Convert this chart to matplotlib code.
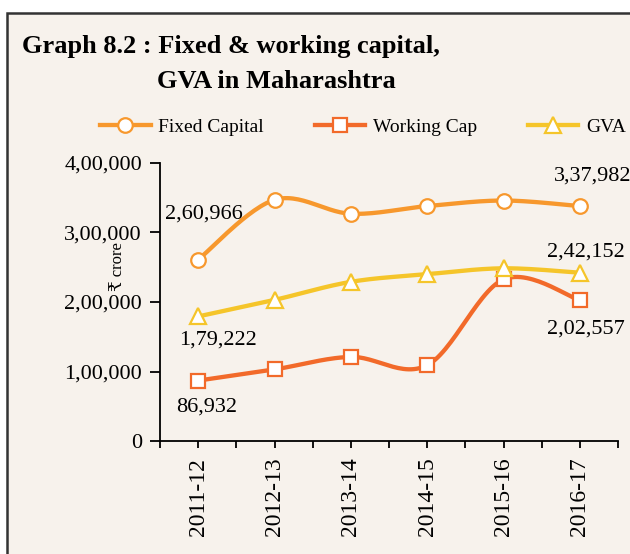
import numpy as np
import matplotlib
matplotlib.use("Agg")
import matplotlib.pyplot as plt
from matplotlib.patches import Rectangle
from matplotlib.ticker import FixedLocator

# ---- data ----
years = ["2011-12", "2012-13", "2013-14", "2014-15", "2015-16", "2016-17"]
fixed_capital = [260966, 347000, 327000, 338000, 346000, 337982]
working_cap = [86932, 103000, 121000, 109000, 232500, 202557]
gva = [179222, 203000, 229000, 240000, 248500, 242152]
yticks = [0, 100000, 200000, 300000, 400000]
ytick_labels = ["0", "1,00,000", "2,00,000", "3,00,000", "4,00,000"]
series_names = ["Fixed Capital", "Working Cap", "GVA"]
title_line1 = "Graph 8.2 : Fixed & working capital,"
title_line2 = "GVA in Maharashtra"
ylabel = "₹ crore"

FONT = ["Liberation Serif", "DejaVu Serif", "DejaVu Sans"]
plt.rcParams["font.family"] = FONT

C_FC = "#F7982D"
C_WC = "#F26A2A"
C_GVA = "#F5C52A"
CREAM = "#F7F2EC"

W, H = 630, 554
fig = plt.figure(figsize=(W / 100, H / 100), dpi=100)
fig.patch.set_facecolor("white")

# cream panel with dark border
fig.patches.append(Rectangle((7 / W, -0.2), 1.2, 1 - 13 / H + 0.2,
                             transform=fig.transFigure, facecolor=CREAM,
                             edgecolor="#333333", linewidth=1.8, zorder=-5))

ax = fig.add_axes([160 / W, 1 - 441 / H, (618 - 160) / W, (441 - 163) / H])
ax.set_zorder(2)
ax.set_facecolor("none")
ax.set_xlim(-0.5, 5.5)
ax.set_ylim(0, 400000)

x = np.arange(len(years))


def indian(v):
    s = str(int(round(v)))
    if len(s) <= 3:
        return s
    last3 = s[-3:]
    rest = s[:-3]
    parts = []
    while len(rest) > 2:
        parts.insert(0, rest[-2:])
        rest = rest[:-2]
    if rest:
        parts.insert(0, rest)
    return ",".join(parts) + "," + last3


def smooth(xs, ys, n=30):
    # Catmull-Rom style smoothing done in approximate pixel space
    sx, sy = 76.4, 278.0 / 400000
    P = np.column_stack([np.asarray(xs, float) * sx, np.asarray(ys, float) * sy])
    out = [P[0]]
    for i in range(len(P) - 1):
        p0 = P[i - 1] if i > 0 else P[i]
        p1, p2 = P[i], P[i + 1]
        p3 = P[i + 2] if i + 2 < len(P) else P[i + 1]
        c1 = p1 + (p2 - p0) / 6
        c2 = p2 - (p3 - p1) / 6
        t = np.linspace(0, 1, n)[1:, None]
        seg = ((1 - t) ** 3) * p1 + 3 * ((1 - t) ** 2) * t * c1 + 3 * (1 - t) * t ** 2 * c2 + t ** 3 * p2
        out.extend(seg)
    out = np.array(out)
    return out[:, 0] / sx, out[:, 1] / sy


series = [(fixed_capital, C_FC, "o", 10.5), (working_cap, C_WC, "s", 10.5), (gva, C_GVA, "^", 11)]
handles = []
for (vals, col, mk, ms), name in zip(series, series_names):
    sx_, sy_ = smooth(x, vals)
    ax.plot(sx_, sy_, color=col, lw=3.1, solid_capstyle="round", zorder=3, clip_on=False)
    ax.plot(x, vals, linestyle="none", marker=mk, markersize=ms, markerfacecolor="white",
            markeredgecolor=col, markeredgewidth=1.6, zorder=4, clip_on=False)
    h, = ax.plot([], [], color=col, lw=3.1, marker=mk, markersize=ms,
                 markerfacecolor="white", markeredgecolor=col, markeredgewidth=1.6)
    handles.append(h)

# data labels
labels = [
    (fixed_capital, 0, (4, 33)),
    (fixed_capital, 5, (9, 22)),
    (gva, 5, (4, 15)),
    (working_cap, 5, (4, -21)),
    (gva, 0, (14, -17)),
    (working_cap, 0, (6, -19)),
]
for vals, i, off in labels:
    ax.annotate(indian(vals[i]), (x[i], vals[i]), xytext=off, textcoords="offset points",
                ha="center", va="center", fontsize=16, color="black",
                annotation_clip=False, zorder=5)

# axes styling
for s in ["top", "right"]:
    ax.spines[s].set_visible(False)
for s in ["left", "bottom"]:
    ax.spines[s].set_linewidth(1.3)
    ax.spines[s].set_color("black")

ax.set_yticks(yticks)
ax.set_yticklabels(ytick_labels, fontsize=16)
ax.tick_params(axis="y", direction="out", length=7, width=1.3, pad=6)

ax.xaxis.set_major_locator(FixedLocator(np.arange(-0.5, 6.0, 1.0)))
ax.xaxis.set_minor_locator(FixedLocator(x))
ax.set_xticklabels([])
ax.set_xticklabels(years, minor=True, rotation=90, fontsize=17)
ax.tick_params(axis="x", which="both", direction="out", length=5, width=1.3)
ax.tick_params(axis="x", which="minor", pad=7)

# y-axis title placed between the tick labels, as in the reference
fig.text(118 / W, 1 - 267 / H, ylabel, fontsize=12, rotation=90,
         ha="center", va="center")

# title
fig.text(22 / W, 1 - 53 / H, title_line1, fontsize=19, fontweight="bold",
         ha="left", va="baseline")
fig.text(157 / W, 1 - 88 / H, title_line2, fontsize=19, fontweight="bold",
         ha="left", va="baseline")

# legend
fig.legend(handles, series_names, loc="center left", bbox_to_anchor=(100 / W, 1 - 127 / H),
           ncol=3, frameon=False, fontsize=14, handlelength=2.6, handletextpad=0.4,
           columnspacing=2.6, borderaxespad=0, borderpad=0)

fig.savefig("out.png", dpi=100)
